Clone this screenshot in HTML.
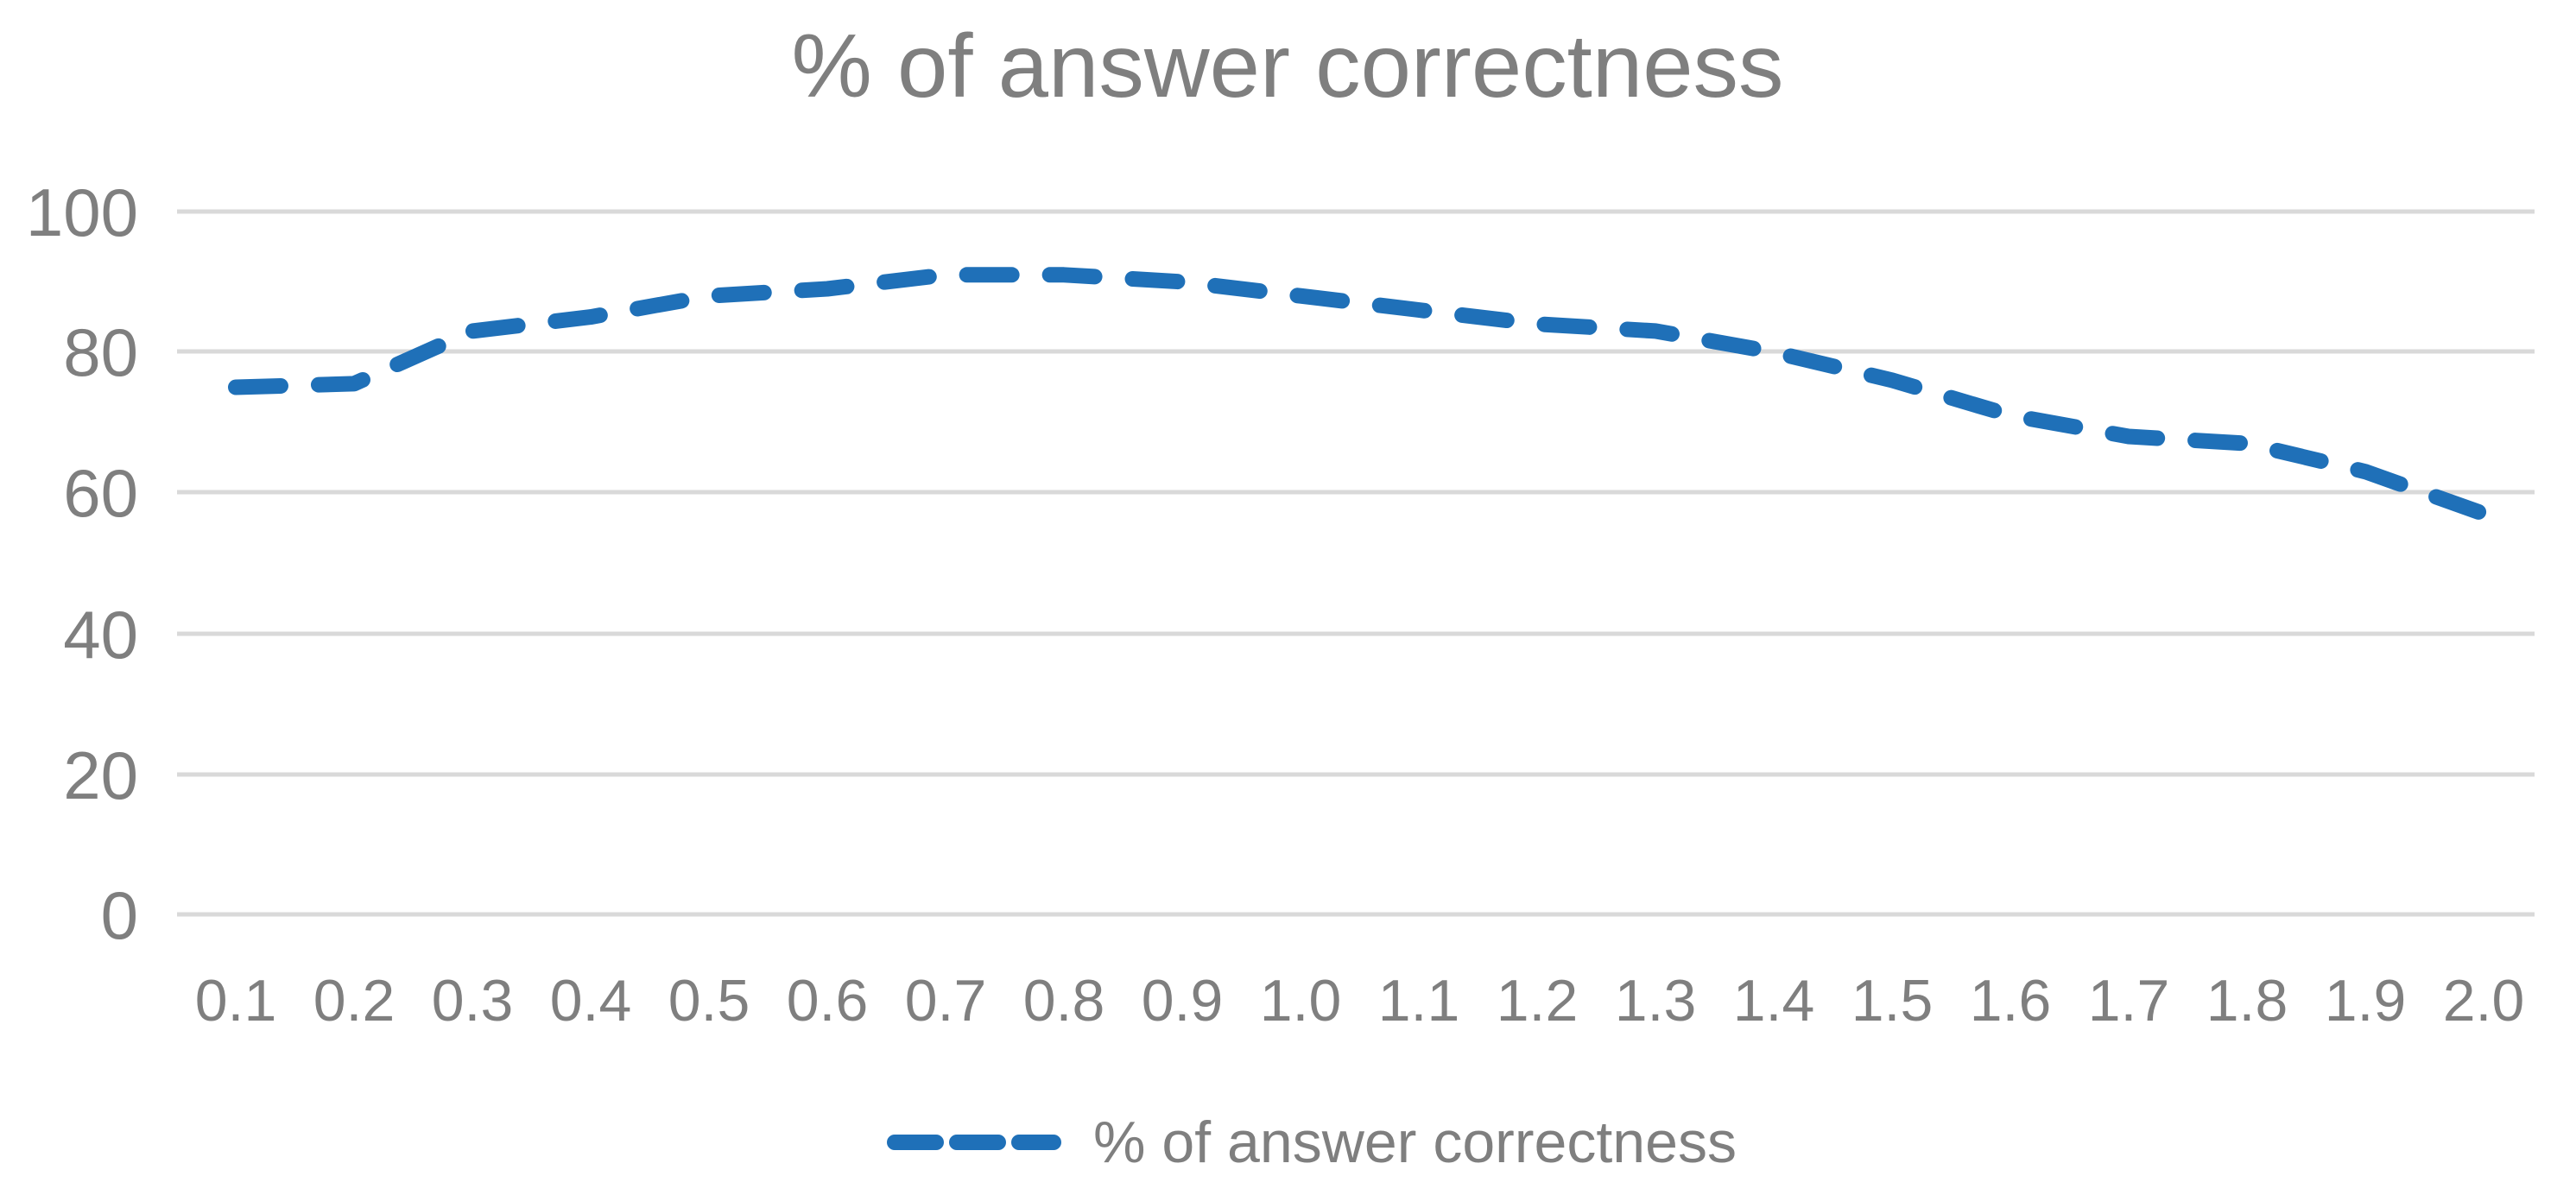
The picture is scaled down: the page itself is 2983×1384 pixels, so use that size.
<!DOCTYPE html>
<html><head><meta charset="utf-8"><style>
html,body{margin:0;padding:0;background:#fff;}
svg{display:block;}
text{font-family:"Liberation Sans",sans-serif;fill:#7f7f7f;}
</style></head><body>
<svg width="2983" height="1384" viewBox="0 0 2983 1384" xmlns="http://www.w3.org/2000/svg">
<rect width="2983" height="1384" fill="#fff"/>
<text x="1491" y="112" font-size="104" text-anchor="middle" textLength="1149" lengthAdjust="spacingAndGlyphs">% of answer correctness</text>
<g stroke="#d9d9d9" stroke-width="5">
<line x1="205" y1="245" x2="2935" y2="245"/>
<line x1="205" y1="407" x2="2935" y2="407"/>
<line x1="205" y1="570" x2="2935" y2="570"/>
<line x1="205" y1="734" x2="2935" y2="734"/>
<line x1="205" y1="897" x2="2935" y2="897"/>
<line x1="205" y1="1059" x2="2935" y2="1059"/>
</g>
<g font-size="78" text-anchor="end">
<text x="160" y="273">100</text>
<text x="160" y="435">80</text>
<text x="160" y="598">60</text>
<text x="160" y="762">40</text>
<text x="160" y="925">20</text>
<text x="160" y="1087">0</text>
</g>
<g font-size="68" text-anchor="middle">
<text x="273" y="1182">0.1</text><text x="410" y="1182">0.2</text><text x="547" y="1182">0.3</text><text x="684" y="1182">0.4</text><text x="821" y="1182">0.5</text><text x="958" y="1182">0.6</text><text x="1095" y="1182">0.7</text><text x="1232" y="1182">0.8</text><text x="1369" y="1182">0.9</text><text x="1506" y="1182">1.0</text><text x="1643" y="1182">1.1</text><text x="1780" y="1182">1.2</text><text x="1917" y="1182">1.3</text><text x="2054" y="1182">1.4</text><text x="2191" y="1182">1.5</text><text x="2328" y="1182">1.6</text><text x="2465" y="1182">1.7</text><text x="2602" y="1182">1.8</text><text x="2739" y="1182">1.9</text><text x="2876" y="1182">2.0</text>
</g>
<path id="series" fill="none" stroke="#1f70b8" stroke-width="18" stroke-linecap="round" stroke-linejoin="round" stroke-dasharray="52,44"
d="M273,448.5 L410,444.4 L547,383.4 L684,367.1 L821,342.7 L958,334.5 L1095,318.3 L1232,318.3 L1369,326.4 L1506,342.7 L1643,359 L1780,375.2 L1917,383.4 L2054,407.8 L2191,440.4 L2328,481 L2465,505.5 L2602,513.6 L2739,546.2 L2876,595"/>
<line x1="1036" y1="1323" x2="1220" y2="1323" stroke="#1f70b8" stroke-width="18" stroke-linecap="round" stroke-dasharray="48,24"/>
<text x="1266" y="1346" font-size="68" textLength="745" lengthAdjust="spacingAndGlyphs">% of answer correctness</text>
<script>
(function(){
var ys=[448.5,444.4,383.4,367.1,342.7,334.5,318.3,318.3,326.4,342.7,359,375.2,383.4,407.8,440.4,481,505.5,513.6,546.2,595];
var p=ys.map(function(y,i){return [273+137*i,y];});
var d="M"+p[0][0]+","+p[0][1];
for(var i=0;i<p.length-1;i++){
var p0=p[i-1]||p[i],p1=p[i],p2=p[i+1],p3=p[i+2]||p[i+1];
var c1x=p1[0]+(p2[0]-p0[0])/6,c1y=p1[1]+(p2[1]-p0[1])/6;
var c2x=p2[0]-(p3[0]-p1[0])/6,c2y=p2[1]-(p3[1]-p1[1])/6;
d+=" C"+c1x.toFixed(1)+","+c1y.toFixed(1)+" "+c2x.toFixed(1)+","+c2y.toFixed(1)+" "+p2[0]+","+p2[1];
}
document.getElementById("series").setAttribute("d",d);
})();
</script>
</svg>
</body></html>
